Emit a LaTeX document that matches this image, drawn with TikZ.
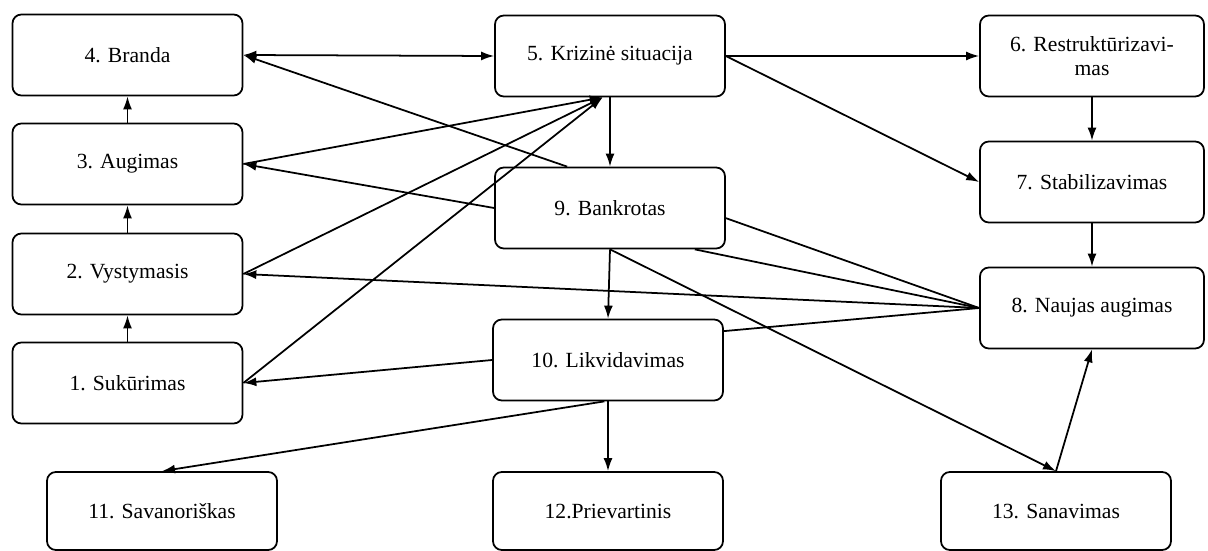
\documentclass[tikz,border=0pt]{standalone}
\usepackage{fontspec}
\setmainfont{Liberation Serif}
\usetikzlibrary{arrows.meta}

\begin{document}
\begin{tikzpicture}[
x=0.02cm, y=-0.02cm,
stagebox/.style={rectangle, rounded corners=5pt, draw=black, line width=1pt, minimum width=4.6cm, minimum height=1.62cm, align=center, inner sep=2pt, font=\fontsize{12.3}{14}\selectfont},
lowbox/.style={stagebox, minimum height=1.56cm},
rightbox/.style={stagebox, minimum width=4.48cm},
link/.style={line width=1pt, -{Latex[length=2.6mm,width=1.8mm]}},
twolink/.style={line width=1pt, {Latex[length=2.6mm,width=1.8mm]}-{Latex[length=2.6mm,width=1.8mm]}},
plainlink/.style={line width=1pt},
]
\useasboundingbox (0,0) rectangle (1208,551);
%Nodes
\node[stagebox]   (n4)   at (127.5,55)  {4. Branda};
\node[stagebox]   (n3)   at (127.5,164) {3. Augimas};
\node[stagebox]   (n2)   at (127.5,274) {2. Vystymasis};
\node[stagebox]   (n1)   at (127.5,383) {1. Sukūrimas};
\node[lowbox]     (n11)  at (162,511)   {11. Savanoriškas};
\node[stagebox]   (n5)   at (610,56)    {5. Krizinė situacija};
\node[stagebox]   (n9)   at (610,208)   {9. Bankrotas};
\node[stagebox]   (n10)  at (608,360)   {10. Likvidavimas};
\node[lowbox]     (n12)  at (608,511)   {12.Prievartinis};
\node[rightbox]   (n6)   at (1092,56)   {6. Restruktūrizavi-\\mas};
\node[rightbox]   (n7)   at (1092,182)  {7. Stabilizavimas};
\node[rightbox]   (n8)   at (1092,308)  {8. Naujas augimas};
\node[lowbox]     (n13)  at (1056,511)  {13. Sanavimas};

%Lines
\draw[link] (n1.north) -- (n2.south);
\draw[link] (n2.north) -- (n3.south);
\draw[link] (n3.north) -- (n4.south);
\draw[twolink] (n4.east) -- (n5.west);
\draw[link] (n3.east) -- (n5.260);
\draw[link] (n2.east) -- (n5.260);
\draw[link] (n1.east) -- (n5.260);
\draw[link] (n5.east) -- (n6.west);
\draw[link] (n5.east) -- (n7.west);
\draw[link] (n6.south) -- (n7.north);
\draw[link] (n7.south) -- (n8.north);
\draw[link] (n5.south) -- (n9.north);
\draw[link] (n9.136) -- (n4.east);
\draw[link] (n9.west) -- (n3.east);
\draw[link] (n8.west) -- (n2.east);
\draw[link] (n10.west) -- (n1.east);
\draw[link] (n9.south) -- (n10.north);
\draw[link] (n9.south) -- (n13.north);
\draw[link] (n10.265) -- (n11.north);
\draw[link] (n10.south) -- (n12.north);
\draw[link] (n13.north) -- (n8.south);
\draw[plainlink] (n9.-5) -- (n8.west);
\draw[plainlink] (n9.-26.6) -- (n8.west);
\draw[plainlink] (n10.14) -- (n8.west);
\end{tikzpicture}
\end{document}
